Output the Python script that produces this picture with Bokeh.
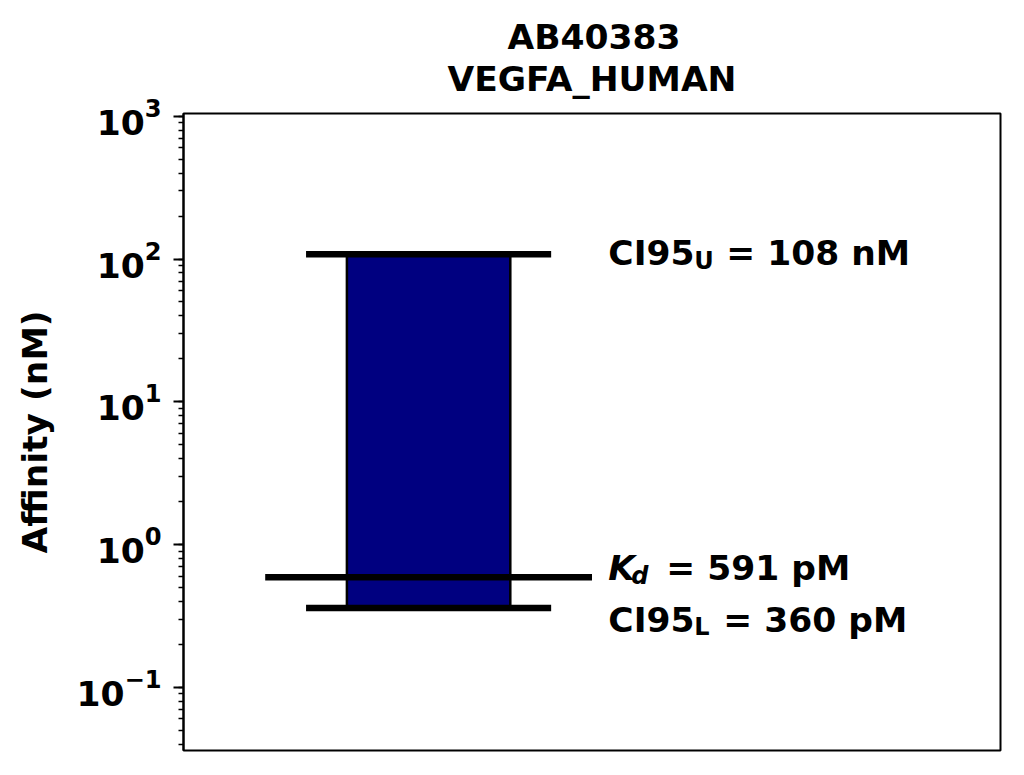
from bokeh.plotting import figure
from bokeh.models import Range1d, Title
from bokeh.core.properties import value
from bokeh.embed import file_html
from bokeh.resources import INLINE

# values
antibody = "AB40383"
target = "VEGFA_HUMAN"
kd_nm = [0.591]
ci95_lower_nm = [0.360]
ci95_upper_nm = [108.0]
kd_label = ["= 591 pM"]
lower_label = ["= 360 pM"]
upper_label = ["= 108 nM"]

FONT = value("DejaVu Sans")
BIG = "34.5px"
SMALL = "24px"

p = figure(width=1008, height=759, y_axis_type="log", title=None,
           x_range=Range1d(-0.6, 1.4), y_range=Range1d(0.0361, 1045),
           x_axis_location=None, output_backend="svg", toolbar_location=None,
           min_border_left=183, min_border_right=8, min_border_top=113, min_border_bottom=9)

p.grid.visible = False
p.outline_line_color = "black"
p.outline_line_width = 2
p.outline_line_alpha = 1
p.background_fill_color = "white"
p.border_fill_color = "white"

ax = p.yaxis[0]
ax.axis_label = "Affinity (nM)"
ax.axis_label_text_font = "DejaVu Sans"
ax.axis_label_text_font_style = "bold"
ax.axis_label_text_font_size = BIG
ax.axis_label_text_color = "black"
ax.axis_label_standoff = 18
ax.major_label_text_font = "DejaVu Sans"
ax.major_label_text_font_style = "bold"
ax.major_label_text_font_size = BIG
ax.major_label_text_color = "black"
ax.major_label_standoff = 12
ax.axis_line_width = 2
ax.axis_line_color = "black"
ax.major_tick_line_width = 2
ax.major_tick_line_color = "black"
ax.minor_tick_line_width = 1.5
ax.minor_tick_line_color = "black"
ax.major_tick_out = 10
ax.major_tick_in = 0
ax.minor_tick_out = 5
ax.minor_tick_in = 0

# multi-line title lines are left-justified, so pad the short line to centre it
pad = "\u00a0" * 5
p.add_layout(Title(text=f"{pad}{antibody}\n{target}", align="center", text_font="DejaVu Sans",
                   text_font_style="bold", text_font_size=BIG, text_line_height=1.05,
                   text_color="black", standoff=29), "above")

# interval box and marker lines
p.quad(left=-0.2, right=0.2, bottom=ci95_lower_nm, top=ci95_upper_nm,
       fill_color="#000080", line_color="black", line_width=2.5)
p.segment(x0=-0.3, x1=0.3, y0=ci95_upper_nm, y1=ci95_upper_nm, line_color="black", line_width=6.5)
p.segment(x0=-0.3, x1=0.3, y0=ci95_lower_nm, y1=ci95_lower_nm, line_color="black", line_width=6.5)
p.segment(x0=-0.4, x1=0.4, y0=kd_nm, y1=kd_nm, line_color="black", line_width=6.5)

tx = 0.44


def put(y, text, size, style, dx, dy):
    p.text(x=[tx], y=y, text=text, text_font=FONT, text_font_style=style,
           text_font_size=size, text_color="black", text_align="left",
           text_baseline="alphabetic", x_offset=dx, y_offset=dy)


put(ci95_upper_nm, ["CI95"], BIG, "bold", 0, -1)
put(ci95_upper_nm, ["U"], SMALL, "bold", 86, 7)
put(ci95_upper_nm, upper_label, BIG, "bold", 118, -1)

put(kd_nm, ["K"], BIG, "bold italic", 0, -9)
put(kd_nm, ["d"], SMALL, "bold italic", 23, -1)
put(kd_nm, kd_label, BIG, "bold", 58, -9)

put(ci95_lower_nm, ["CI95"], BIG, "bold", 0, 12)
put(ci95_lower_nm, ["L"], SMALL, "bold", 86, 19.5)
put(ci95_lower_nm, lower_label, BIG, "bold", 115, 12)

open("out.html", "w").write(file_html(p, INLINE))
